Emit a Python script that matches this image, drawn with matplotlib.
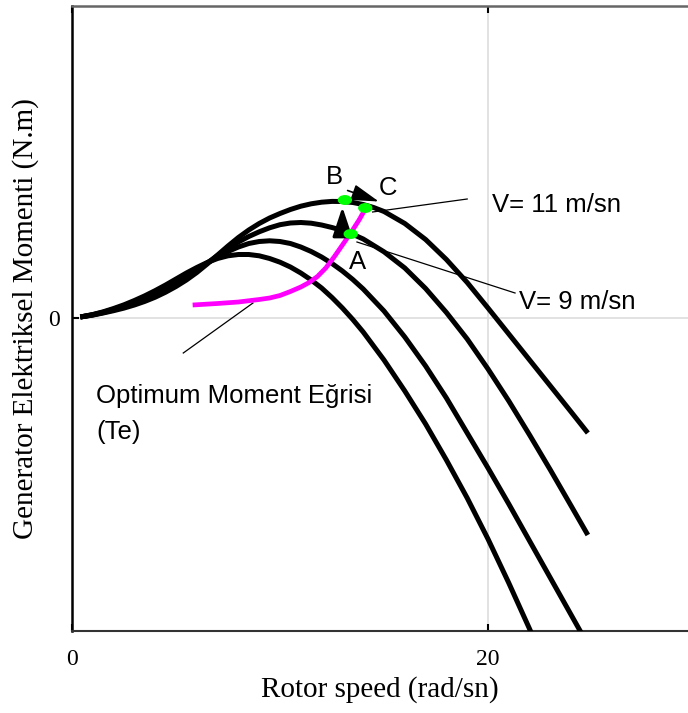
import numpy as np
import matplotlib.pyplot as plt
from matplotlib.patches import Ellipse

# rotor speed (rad/sn) vs generator torque for four wind speeds
w_rise = [0.4, 1, 1.5, 2, 2.5, 3, 3.5, 4, 4.5, 5, 5.5, 6, 6.5, 7, 7.5, 8, 8.5, 9, 9.5, 10,
          10.5, 11, 11.5, 12, 12.5, 13, 13.5, 14]

w1 = w_rise + [15, 16, 17, 18, 19, 20, 21, 22, 22.5]
t1 = [0.1, 0.35, 0.62, 0.95, 1.32, 1.75, 2.22, 2.74, 3.3, 3.9, 4.5, 5.05, 5.55, 5.95, 6.22,
      6.35, 6.35, 6.22, 5.95, 5.58, 5.1, 4.5, 3.8, 3.0, 2.05, 1.0, -0.15, -1.4,
      -4.2, -7.3, -10.6, -14.2, -18.0, -22.1, -26.5, -31.1, -33.5]

w2 = w_rise + [15, 16, 17, 18, 19, 20, 21, 22, 23, 24, 25]
t2 = [0.1, 0.33, 0.58, 0.88, 1.22, 1.6, 2.03, 2.5, 3.02, 3.6, 4.22, 4.88, 5.5, 6.1, 6.65,
      7.1, 7.45, 7.65, 7.72, 7.65, 7.45, 7.1, 6.65, 6.1, 5.45, 4.7, 3.85, 2.9,
      0.7, -1.9, -4.8, -8.0, -11.5, -15.0, -18.6, -22.3, -26.0, -29.7, -33.4]

w3 = w_rise + [15, 16, 17, 18, 19, 20, 21, 22, 23, 24, 24.8]
t3 = [0.1, 0.31, 0.54, 0.8, 1.1, 1.45, 1.85, 2.3, 2.82, 3.4, 4.05, 4.75, 5.5, 6.25, 6.95,
      7.6, 8.15, 8.62, 9.02, 9.33, 9.5, 9.55, 9.48, 9.3, 9.05, 8.75, 8.37, 7.9,
      6.62, 5.0, 2.95, 0.55, -2.1, -5.1, -8.3, -11.7, -15.2, -18.8, -21.7]

w4 = w_rise + [14.5, 15, 16, 17, 18, 19, 20, 21, 22, 23, 24, 24.8]
t4 = [0.1, 0.29, 0.5, 0.73, 0.99, 1.3, 1.66, 2.08, 2.58, 3.15, 3.8, 4.55, 5.4, 6.3, 7.2,
      8.05, 8.8, 9.45, 10.0, 10.45, 10.85, 11.18, 11.42, 11.58, 11.66, 11.65, 11.55, 11.35,
      11.05, 10.65, 9.45, 7.85, 5.85, 3.55, 1.0, -1.6, -4.2, -6.8, -9.4, -11.5]

# optimum torque curve (Te)
w_opt = [5.8, 7.0, 8.0, 9.0, 9.5, 10.0, 10.5, 11.0, 11.4, 11.8, 12.2, 12.6, 13.0, 13.4, 13.8, 14.1]
t_opt = [1.3, 1.45, 1.6, 1.85, 2.0, 2.25, 2.65, 3.1, 3.55, 4.15, 5.0, 6.1, 7.3, 8.5, 9.8, 10.9]

# operating points A, B, C
pts = {'A': (13.4, 8.4), 'B': (13.12, 11.8), 'C': (14.1, 11.0)}

fig = plt.figure(figsize=(6.88, 7.13), dpi=100)
ax = fig.add_axes([72/688, 1 - 631/713, 1 - 72/688, 625/713])

for w, t in [(w1, t1), (w2, t2), (w3, t3), (w4, t4)]:
    ax.plot(w, t, color='black', lw=3.6, solid_capstyle='butt', solid_joinstyle='round', zorder=3)

ax.plot(w_opt, t_opt, color='#ff00ff', lw=3.4, solid_capstyle='butt', solid_joinstyle='round', zorder=4)

# arrows A -> B and B -> C
ax.annotate('', xy=(13.0, 11.1), xytext=(13.0, 8.3),
            arrowprops=dict(arrowstyle='-|>,head_length=0.9,head_width=0.3', color='black',
                            lw=2.2, shrinkA=0, shrinkB=0, mutation_scale=20), zorder=5)
ax.annotate('', xy=(14.75, 11.65), xytext=(13.25, 12.75),
            arrowprops=dict(arrowstyle='-|>,head_length=0.85,head_width=0.25', color='black',
                            lw=1.2, shrinkA=0, shrinkB=0, mutation_scale=20), zorder=5)

for k, (x, y) in pts.items():
    ax.add_patch(Ellipse((x, y), 0.62, 0.85, color='#00ff00', zorder=6))

# leader lines for labels
ax.plot([14.45, 19.0], [10.6, 11.9], color='black', lw=0.9, zorder=2)
ax.plot([13.7, 21.3], [7.6, 2.5], color='black', lw=0.9, zorder=2)
ax.plot([8.7, 5.35], [1.5, -3.5], color='black', lw=0.9, zorder=2)

sans = 'Liberation Sans'
fs = 18.5
ax.text(12.6, 14.1, 'B', fontsize=fs, family=sans, ha='center', va='center')
ax.text(15.2, 13.0, 'C', fontsize=fs, family=sans, ha='center', va='center')
ax.text(13.75, 5.6, 'A', fontsize=fs, family=sans, ha='center', va='center')
ax.text(20.2, 11.3, 'V= 11 m/sn', fontsize=fs, family=sans, ha='left', va='center')
ax.text(21.5, 1.6, 'V= 9 m/sn', fontsize=fs, family=sans, ha='left', va='center')
ax.text(1.15, -7.8, 'Optimum Moment Eğrisi', fontsize=fs, family=sans, ha='left', va='center')
ax.text(1.15, -11.4, '(Te)', fontsize=fs, family=sans, ha='left', va='center')

ax.set_xlim(0, 616/20.8)
ax.set_ylim(-31.3, 31.2)
ax.set_xticks([0, 20])
ax.set_yticks([0])
ax.grid(True, color='#dddddd', lw=1.2, zorder=0)
ax.tick_params(direction='in', length=5, width=1.5, top=True, labelsize=17)
ax.tick_params(axis='x', pad=13)
ax.tick_params(axis='y', pad=9)
for lab in ax.get_xticklabels() + ax.get_yticklabels():
    lab.set_family('Liberation Serif')

ax.spines['right'].set_visible(False)
ax.spines['left'].set_linewidth(1.8)
ax.spines['bottom'].set_linewidth(1.5)
ax.spines['bottom'].set_color('#333333')
ax.spines['top'].set_linewidth(1.8)
ax.spines['top'].set_color('#666666')

ax.set_xlabel('Rotor speed (rad/sn)', fontsize=21, family='Liberation Serif', labelpad=4)
ax.set_ylabel('Generator Elektriksel Momenti (N.m)', fontsize=21, family='Liberation Serif', labelpad=6)

fig.savefig('out.png', dpi=100)
